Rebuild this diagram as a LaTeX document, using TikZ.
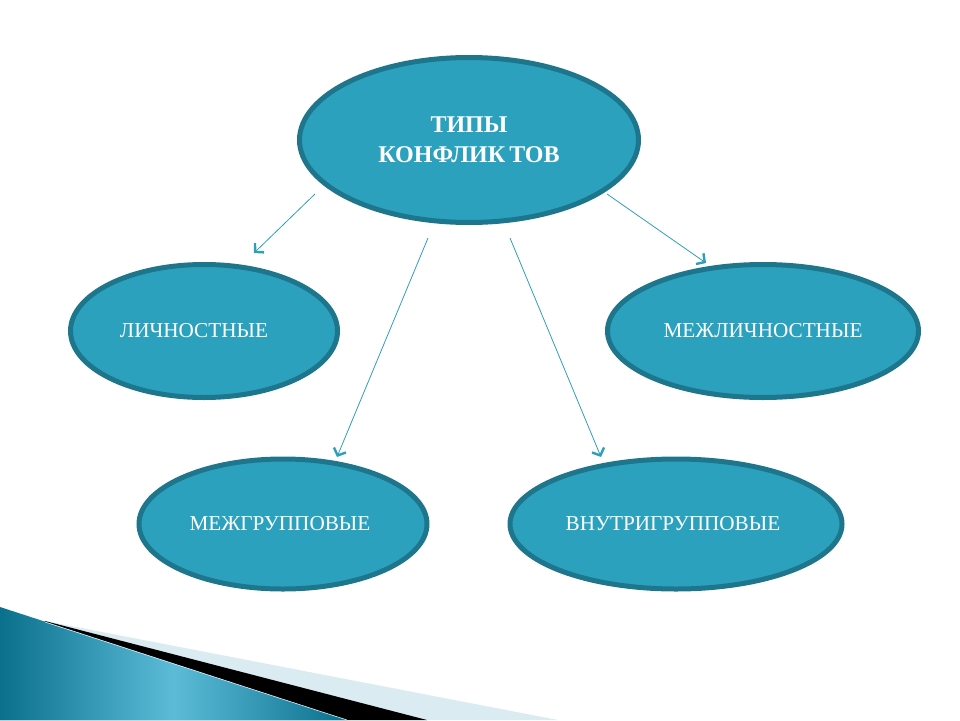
\documentclass[tikz,border=0pt]{standalone}
\usepackage{fontspec}
\setmainfont{Liberation Serif}
\usetikzlibrary{shapes.geometric,arrows.meta}
\definecolor{efill}{RGB}{44,161,190}
\definecolor{eline}{RGB}{30,118,140}
\definecolor{arrc}{RGB}{46,158,186}
\definecolor{lightband}{RGB}{218,235,241}
\definecolor{bandA}{RGB}{10,112,140}
\definecolor{bandB}{RGB}{92,188,216}
\tikzset{
  oval/.style={ellipse, draw=eline, fill=efill, line width=5pt, inner sep=0pt,
    text=white, font=\fontsize{21.2}{25}\selectfont, align=center},
  arr/.style={draw=arrc, line width=0.8pt,
    -{Straight Barb[length=6pt,width=13pt,line width=2.4pt]}}
}
\begin{document}
\begin{tikzpicture}[x=1pt,y=-1pt]
\useasboundingbox (0,0) rectangle (960,720);
% bottom-left decoration
\fill[lightband] (45,621) -- (558,720) -- (0,720) -- cycle;
\fill[black] (45,621) -- (427,720) -- (0,720) -- cycle;
\begin{scope}
  \clip (0,607) -- (347,720) -- (0,720) -- cycle;
  \shade[left color=bandA, right color=bandA, middle color=bandB] (0,600) rectangle (347,720);
\end{scope}
\draw[white!80!bandB, line width=0.6pt] (45,622) -- (347,720);
% ellipses
\node[oval, minimum width=339pt, minimum height=165pt,
  font=\bfseries\fontsize{24}{30}\selectfont] (top) at (469,140)
  {ТИПЫ\\КОНФЛИК\,ТОВ};
\node[oval, minimum width=267pt, minimum height=133pt] (lich) at (204,331)
  {\hspace*{-20pt}ЛИЧНОСТНЫЕ};
\node[oval, minimum width=311pt, minimum height=133pt] (mlich) at (763,331)
  {МЕЖЛИЧНОСТНЫЕ};
\node[oval, minimum width=288pt, minimum height=130pt] (mgr) at (283,524)
  {\hspace*{-6pt}МЕЖГРУППОВЫЕ};
\node[oval, minimum width=332pt, minimum height=130pt] (vgr) at (676,524)
  {\hspace*{-6pt}ВНУТРИГРУППОВЫЕ};
% arrows
\coordinate (s1) at (315,194); \coordinate (e1) at (254,253);
\coordinate (s2) at (607,194); \coordinate (e2) at (706,263);
\coordinate (s3) at (428,238); \coordinate (e3) at (337,457);
\coordinate (s4) at (510,238); \coordinate (e4) at (601,457);
\draw[arr] (s1) -- (e1);
\draw[arr] (s2) -- (e2);
\draw[arr] (s3) -- (e3);
\draw[arr] (s4) -- (e4);
\end{tikzpicture}
\end{document}
